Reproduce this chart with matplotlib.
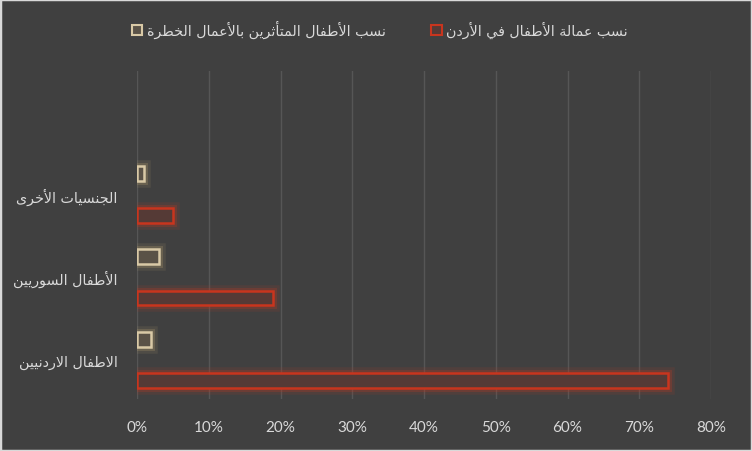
import matplotlib
matplotlib.use("Agg")
import matplotlib.pyplot as plt
import matplotlib.patheffects as pe
from matplotlib.patches import Rectangle

# data (percent)
categories = ["الاطفال الاردنيين", "الأطفال السوريين", "الجنسيات الأخرى"]
child_labour = [74, 19, 5]
hazardous_work = [2, 3, 1]
series_names = ["نسب عمالة الأطفال في الأردن", "نسب الأطفال المتأثرين بالأعمال الخطرة"]
x_ticks = [0, 10, 20, 30, 40, 50, 60, 70, 80]

# simple arabic shaping: presentation forms + reverse (matplotlib has no shaping)
FORMS = {
    'ا': (0xFE8D, 2), 'أ': (0xFE83, 2), 'إ': (0xFE87, 2), 'آ': (0xFE81, 2),
    'ب': (0xFE8F, 4), 'ة': (0xFE93, 2), 'ت': (0xFE95, 4), 'ث': (0xFE99, 4),
    'ج': (0xFE9D, 4), 'ح': (0xFEA1, 4), 'خ': (0xFEA5, 4), 'د': (0xFEA9, 2),
    'ذ': (0xFEAB, 2), 'ر': (0xFEAD, 2), 'ز': (0xFEAF, 2), 'س': (0xFEB1, 4),
    'ش': (0xFEB5, 4), 'ص': (0xFEB9, 4), 'ض': (0xFEBD, 4), 'ط': (0xFEC1, 4),
    'ظ': (0xFEC5, 4), 'ع': (0xFEC9, 4), 'غ': (0xFECD, 4), 'ف': (0xFED1, 4),
    'ق': (0xFED5, 4), 'ك': (0xFED9, 4), 'ل': (0xFEDD, 4), 'م': (0xFEE1, 4),
    'ن': (0xFEE5, 4), 'ه': (0xFEE9, 4), 'و': (0xFEED, 2), 'ى': (0xFEEF, 2),
    'ي': (0xFEF1, 4),
}
LAM_ALEF = {'ا': 0xFEFB, 'أ': 0xFEF7, 'إ': 0xFEF9, 'آ': 0xFEF5}


def shape(text):
    # merge lam-alef first
    units = []
    i = 0
    while i < len(text):
        c = text[i]
        if c == 'ل' and i + 1 < len(text) and text[i + 1] in LAM_ALEF:
            units.append(('LA', text[i + 1]))
            i += 2
        else:
            units.append((c, None))
            i += 1

    def joins_left(u):  # can connect to the following letter
        c = u[0]
        return c in FORMS and FORMS[c][1] == 4

    def joining(u):
        return u[0] == 'LA' or u[0] in FORMS

    out = []
    for k, u in enumerate(units):
        prev_j = k > 0 and joins_left(units[k - 1])
        next_j = k + 1 < len(units) and joining(units[k + 1])
        if u[0] == 'LA':
            base = LAM_ALEF[u[1]]
            out.append(chr(base + 1 if prev_j else base))
            continue
        c = u[0]
        if c not in FORMS:
            out.append(c)
            continue
        base, n = FORMS[c]
        if n == 2:
            out.append(chr(base + 1 if prev_j else base))
        else:
            if prev_j and next_j:
                out.append(chr(base + 3))
            elif prev_j:
                out.append(chr(base + 1))
            elif next_j:
                out.append(chr(base + 2))
            else:
                out.append(chr(base))
    return ''.join(reversed(out))


bg = '#404040'
txt = '#d9d9d9'
red_edge, red_fill, red_glow = '#c8351e', '#553a36', '#b03a26'
tan_edge, tan_fill, tan_glow = '#d9c9a6', '#5a5247', '#a8946a'

fig = plt.figure(figsize=(7.52, 4.52), dpi=100, facecolor=bg)
ax = fig.add_axes([0.1822, 0.115, 0.7633, 0.7257])
ax.set_facecolor(bg)

pos = list(range(len(categories)))
h = 0.18
bars_red = ax.barh([p - 0.25 for p in pos], child_labour, height=h,
                   color=red_fill, edgecolor=red_edge, linewidth=1.8, zorder=3)
bars_tan = ax.barh([p + 0.25 for p in pos], hazardous_work, height=h,
                   color=tan_fill, edgecolor=tan_edge, linewidth=1.8, zorder=3)
for b in bars_red:
    b.set_path_effects([pe.Stroke(linewidth=9, foreground=red_glow, alpha=0.15),
                        pe.Stroke(linewidth=5, foreground=red_glow, alpha=0.3),
                        pe.Normal()])
for b in bars_tan:
    b.set_path_effects([pe.Stroke(linewidth=9, foreground=tan_glow, alpha=0.15),
                        pe.Stroke(linewidth=5, foreground=tan_glow, alpha=0.3),
                        pe.Normal()])

ax.set_xlim(0, 80)
ax.set_ylim(-0.47, 3.49)
ax.set_xticks(x_ticks)
ax.set_xticklabels([f"{t}%" for t in x_ticks], fontsize=11, color=txt, family='Lato')
ax.set_yticks(pos)
ax.set_yticklabels([shape(c) for c in categories], fontsize=10.3, color=txt,
                   family='DejaVu Sans')
ax.tick_params(axis='x', length=0, pad=15)
ax.tick_params(axis='y', length=0, pad=14)
for s in ax.spines.values():
    s.set_visible(False)
ax.xaxis.grid(True, color='#565656', linewidth=1.0, zorder=0)
ax.set_axisbelow(True)

handles = [Rectangle((0, 0), 1, 1, facecolor=tan_fill, edgecolor=tan_edge, linewidth=1.5),
           Rectangle((0, 0), 1, 1, facecolor=red_fill, edgecolor=red_edge, linewidth=1.5)]
fig.legend(handles, [shape(series_names[1]), shape(series_names[0])],
           loc='center', bbox_to_anchor=(0.505, 0.934), ncol=2, frameon=False,
           handlelength=0.75, handleheight=0.75, handletextpad=0.3,
           columnspacing=3.2, prop={'family': 'DejaVu Sans', 'size': 10.3},
           labelcolor=txt)

fig.patches.append(Rectangle((0, 0), 1, 1, transform=fig.transFigure, fill=False,
                             edgecolor='#d9d9d9', linewidth=2.5))

fig.savefig('out.png', dpi=100, facecolor=bg)
